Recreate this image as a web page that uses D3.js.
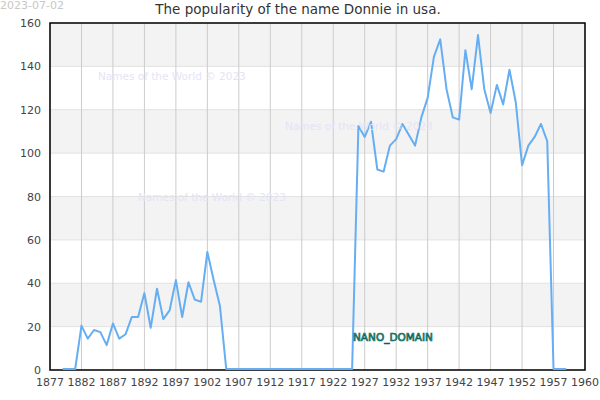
<!DOCTYPE html>
<html>
<head>
<meta charset="utf-8">
<script src="https://cdn.jsdelivr.net/npm/d3@7"></script>
<style>
  body { margin: 0; background: #fff; }
  svg { display: block; font-family: "DejaVu Sans", sans-serif; }
</style>
</head>
<body>
<svg width="600" height="400"></svg>
<script>
const years = d3.range(1879, 1960);
const counts = [
    0, 0, 0, 20, 14, 18, 17, 11, 21, 14,
    16, 24, 24, 35, 19, 37, 23, 27, 41, 24,
    40, 32, 31, 54, 41, 29, 0, 0, 0, 0,
    0, 0, 0, 0, 0, 0, 0, 0, 0, 0,
    0, 0, 0, 0, 0, 0, 0, 112, 107, 114,
    92, 91, 103, 106, 113, 108, 103, 116, 125, 144,
    152, 129, 116, 115, 147, 129, 154, 129, 118, 131,
    122, 138, 123, 94, 103, 107, 113, 105, 0, 0,
    0
];
const xTicks = [1877, 1882, 1887, 1892, 1897, 1902, 1907, 1912, 1917, 1922, 1927, 1932, 1937, 1942, 1947, 1952, 1957, 1962];
const xTickLabels = ["1877", "1882", "1887", "1892", "1897", "1902", "1907", "1912", "1917", "1922", "1927", "1932", "1937", "1942", "1947", "1952", "1957", "1960"];
const yTicks = [0, 20, 40, 60, 80, 100, 120, 140, 160];

const data = years.map((y, i) => ({year: y, value: counts[i]}));

const svg = d3.select('svg');
const width = 600, height = 400;
const margin = {top: 23, right: 15, bottom: 30, left: 50};
const innerW = width - margin.left - margin.right;
const innerH = height - margin.top - margin.bottom;

const x = d3.scaleLinear().domain([1877, 1962]).range([0, innerW]);
const y = d3.scaleLinear().domain([0, 160]).range([innerH, 0]);

const g = svg.append("g")
    .attr("transform", `translate(${margin.left},${margin.top})`);

// alternating bands
const bands = d3.range(20, 160, 40);
g.selectAll(".band")
    .data(bands).enter().append("rect")
    .attr("x", 0)
    .attr("width", innerW)
    .attr("y", d => y(d + 20))
    .attr("height", d => y(d) - y(d + 20))
    .attr("fill", "#f3f3f3");

// horizontal grid
g.selectAll(".hgrid")
    .data(yTicks).enter().append("line")
    .attr("x1", 0).attr("x2", innerW)
    .attr("y1", d => y(d)).attr("y2", d => y(d))
    .attr("stroke", "#e2e2e2");

// vertical grid
g.selectAll(".vgrid")
    .data(xTicks).enter().append("line")
    .attr("x1", d => x(d)).attr("x2", d => x(d))
    .attr("y1", 0).attr("y2", innerH)
    .attr("stroke", "#cccccc");

// watermarks
const marks = [[98, 80], [285, 130], [138, 201]];
svg.selectAll(".wm")
    .data(marks).enter().append("text")
    .attr("x", d => d[0])
    .attr("y", d => d[1])
    .style("font-size", "10.5px")
    .style("fill", "#e4e4f6")
    .text("Names of the World © 2023");

// frame
g.append("rect")
    .attr("width", innerW)
    .attr("height", innerH)
    .attr("fill", "none")
    .attr("stroke", "#000")
    .attr("stroke-width", 1.5);

const line = d3.line()
    .x(d => x(d.year))
    .y(d => y(d.value) - 1);

g.append("path")
    .datum(data)
    .attr("fill", "none")
    .attr("stroke", "#66aef2")
    .attr("stroke-width", 2)
    .attr("stroke-linejoin", "round")
    .attr("d", line);

// axes labels
g.selectAll(".xlab")
    .data(xTicks).enter().append("text")
    .attr("x", d => x(d))
    .attr("y", innerH + 16)
    .attr("text-anchor", "middle")
    .style("font-size", "11px")
    .style("fill", "#444")
    .text((d, i) => xTickLabels[i]);

g.selectAll(".ylab")
    .data(yTicks).enter().append("text")
    .attr("x", -9)
    .attr("y", d => y(d) + 4)
    .attr("text-anchor", "end")
    .style("font-size", "11px")
    .style("fill", "#444")
    .text(d => d);

svg.append("text")
    .attr("x", 353)
    .attr("y", 341)
    .style("font-size", "10.5px")
    .style("fill", "#3fb9a6")
    .style("stroke", "#0d6256")
    .style("stroke-width", 0.7)
    .text("NANO_DOMAIN");

svg.append("text")
    .attr("x", 298)
    .attr("y", 14)
    .attr("text-anchor", "middle")
    .style("font-size", "13.5px")
    .style("fill", "#333")
    .text("The popularity of the name Donnie in usa.");

svg.append("text")
    .attr("x", 0)
    .attr("y", 9)
    .style("font-size", "11px")
    .style("fill", "#c8c8c8")
    .text("2023-07-02");
</script>
</body>
</html>
